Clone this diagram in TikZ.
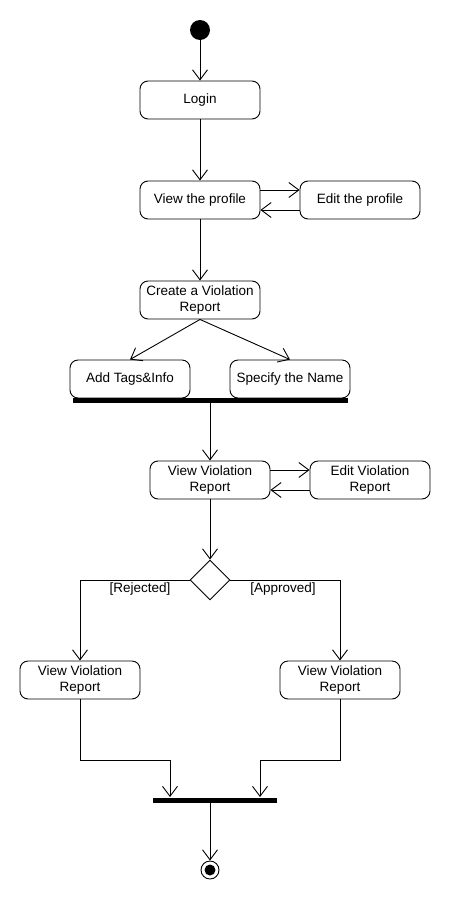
\documentclass[tikz,border=0pt]{standalone}
\usepackage{fontspec}
\setmainfont{Liberation Sans}
\usetikzlibrary{arrows.meta,shapes.geometric}
\begin{document}
\begin{tikzpicture}[x=1pt,y=-1pt,line width=0.9pt,
  act/.style={draw,rounded corners=8pt,minimum width=120pt,minimum height=38pt,
    align=center,inner sep=2pt,font=\fontsize{13.5}{16}\selectfont},
  syncbar/.style={fill=black,draw=none,inner sep=0pt,minimum height=5pt},
  guard/.style={font=\fontsize{13.5}{16}\selectfont,inner sep=0pt},
  flow/.style={-{Straight Barb[length=10pt,width=15pt,line width=0.9pt]}}]
\useasboundingbox (0,0) rectangle (450,900);
\node[circle,fill=black,minimum size=20pt,inner sep=0pt] (start) at (200,30) {};
\node[act] (login) at (200,100) {Login};
\node[act] (view) at (200,200) {View the profile};
\node[act] (edit) at (360,200) {Edit the profile};
\node[act] (create) at (200,300) {Create a Violation\\Report};
\node[act] (tags) at (130,379) {Add Tags\&Info};
\node[act] (name) at (290,379) {Specify the Name};
\node[syncbar,minimum width=275pt] (bar1) at (210,400) {};
\node[act] (vvr) at (210,480) {View Violation\\Report};
\node[act] (evr) at (370,480) {Edit Violation\\Report};
\node[diamond,draw,minimum width=40pt,minimum height=40pt,inner sep=0pt] (dec) at (210,580) {};
\node[act] (rej) at (80,680) {View Violation\\Report};
\node[act] (app) at (340,680) {View Violation\\Report};
\node[syncbar,minimum width=124pt] (bar2) at (215,800) {};
\node[circle,draw,minimum size=18pt,inner sep=0pt] (end) at (210,870) {};
\node[circle,fill=black,minimum size=11pt,inner sep=0pt] (endin) at (end) {};
\node[guard] (lrej) at (140,589) {[Rejected]};
\node[guard] (lapp) at (283,589) {[Approved]};

\draw[flow] (start) -- (login);
\draw[flow] (login) -- (view);
\draw[flow] ([yshift=10pt]view.east) -- ([yshift=10pt]edit.west);
\draw[flow] ([yshift=-10pt]edit.west) -- ([yshift=-10pt]view.east);
\draw[flow] (view) -- (create);
\draw[flow] (create.south) -- (tags.north);
\draw[flow] (create.south) -- (name.north);
\draw[flow] (vvr.north |- bar1.south) -- (vvr.north);
\draw[flow] ([yshift=10pt]vvr.east) -- ([yshift=10pt]evr.west);
\draw[flow] ([yshift=-10pt]evr.west) -- ([yshift=-10pt]vvr.east);
\draw[flow] (vvr) -- (dec);
\draw[flow] (dec.west) -| (rej.north);
\draw[flow] (dec.east) -| (app.north);
\draw[flow] (rej.south) -- ++(0,61) -| ([xshift=-45pt]bar2.north);
\draw[flow] (app.south) -- ++(0,61) -| ([xshift=45pt]bar2.north);
\draw[flow] (end.north |- bar2.south) -- (end.north);
\end{tikzpicture}
\end{document}
